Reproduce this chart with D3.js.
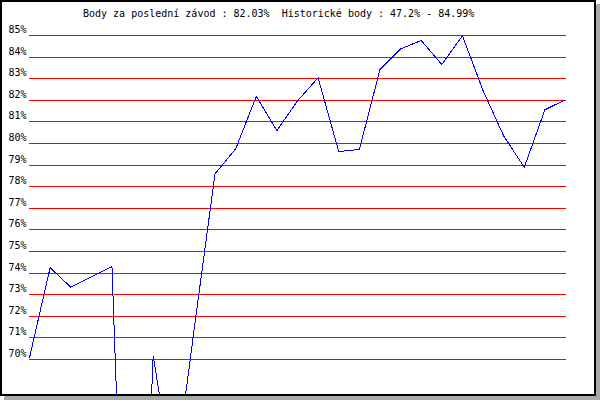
<!DOCTYPE html>
<html>
<head>
<meta charset="utf-8">
<script src="https://cdn.jsdelivr.net/npm/d3@7"></script>
<style>
  html, body { margin: 0; padding: 0; background: #fff; }
  svg { display: block; }
  text { font-family: "DejaVu Sans Mono", "Liberation Mono", monospace; font-size: 10px; fill: #000; white-space: pre; }
</style>
</head>
<body>
<svg id="chart" width="600" height="400"></svg>
<script>
// ---- data ----
const races = [1,2,3,4,5,6,7,8,9,10,11,12,13,14,15,16,17,18,19,20,21,22,23,24,25,26,27];
const scores = [70.08, 74.25, 73.35, 73.83, 74.31, 47.2, 70.17, 64.2, 71.5, 78.6,
                79.75, 82.18, 80.6, 81.97, 83.04, 79.63, 79.72, 83.43, 84.38, 84.77,
                83.66, 84.99, 82.45, 80.35, 78.9, 81.56, 82.03];
const yTicks = [70,71,72,73,74,75,76,77,78,79,80,81,82,83,84,85];
const titleText = "Body za poslední závod : 82.03%  Historické body : 47.2% - 84.99%";

// ---- drawing ----
const svg = d3.select("#chart");
const W = 600, H = 400;

// shadow + frame
svg.append("rect").attr("x", 4).attr("y", 4).attr("width", W - 4).attr("height", H - 4).attr("fill", "#aaaaaa");
svg.append("rect").attr("x", 0).attr("y", 0).attr("width", W - 4).attr("height", H - 4).attr("fill", "#ffffff");

const x = d3.scaleLinear().domain([races[0], races[races.length - 1]]).range([29.5, 565.5]);
const y = d3.scaleLinear().domain([70, 85]).range([359.5, 35.5]);

// grid + labels via axis
const axis = d3.axisLeft(y)
  .tickValues(yTicks)
  .tickSize(-(566 - 29))
  .tickFormat(d => d + "%");
const gAxis = svg.append("g").attr("transform", "translate(29,0)").call(axis);
gAxis.select(".domain").remove();
gAxis.selectAll(".tick").attr("transform", d => `translate(0,${Math.floor(y(d)) + 0.5})`);
gAxis.selectAll(".tick line").attr("stroke", "#ff0000").attr("stroke-width", 1).attr("shape-rendering", "crispEdges");
gAxis.selectAll(".tick text")
  .attr("x", -2.5).attr("dy", null).attr("y", -2.5)
  .attr("text-anchor", "end")
  .style("font-family", "'DejaVu Sans Mono', monospace").style("font-size", "10px").attr("fill", "#000");
gAxis.attr("font-family", null).attr("font-size", null);

// clip for the line
svg.append("clipPath").attr("id", "clip").append("rect").attr("x", 0).attr("y", 0).attr("width", 594).attr("height", 394);

const line = d3.line().x((d, i) => x(races[i])).y(d => y(d));
svg.append("path")
  .attr("clip-path", "url(#clip)")
  .attr("d", line(scores))
  .attr("fill", "none")
  .attr("stroke", "#0000ff")
  .attr("stroke-width", 1)
  .attr("shape-rendering", "crispEdges");

// title
svg.append("text").attr("x", 83).attr("y", 17).attr("xml:space", "preserve").text(titleText);

// frame border on top
svg.append("rect").attr("x", 1).attr("y", 1).attr("width", W - 6).attr("height", H - 6)
  .attr("fill", "none").attr("stroke", "#000").attr("stroke-width", 2);
</script>
</body>
</html>
